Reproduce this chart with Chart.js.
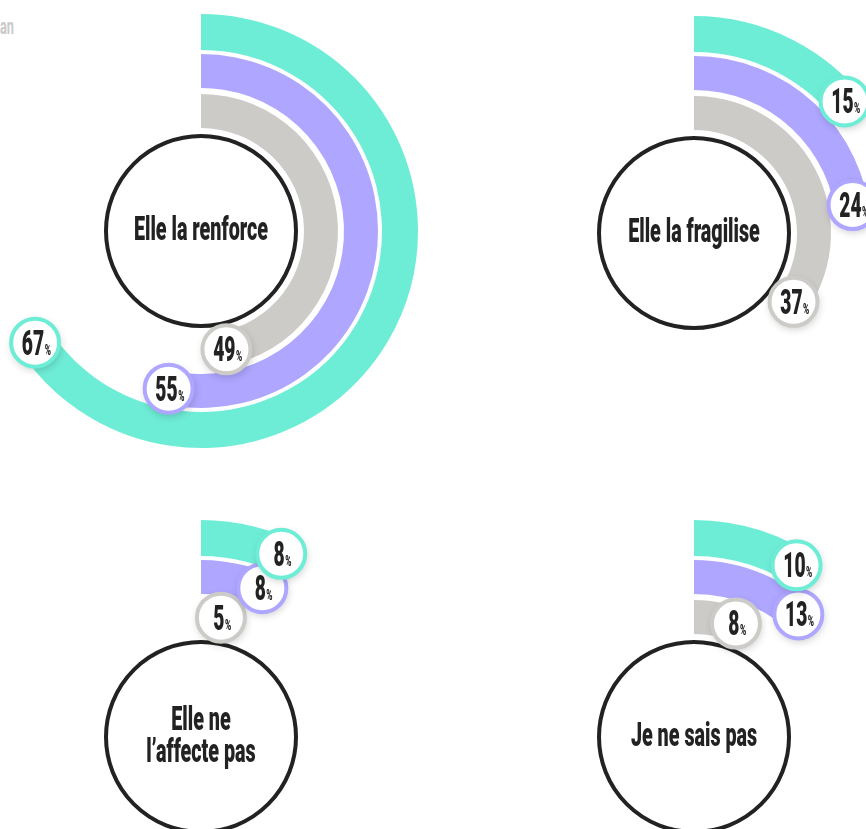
<!DOCTYPE html>
<html lang="fr">
<head>
<meta charset="utf-8">
<script src="https://cdn.jsdelivr.net/npm/chart.js@4.4.1/dist/chart.umd.min.js"></script>
<style>
    html, body { margin: 0; padding: 0; background: #fff; }
    #stage { position: relative; width: 866px; height: 829px; overflow: hidden; }
    .gauge { position: absolute; }
    #legend-tail {
        position: absolute; left: 0; top: 14px;
        font: 700 22px Roboto; color: #c9c9c9;
        transform: scaleX(0.58); transform-origin: left top;
    }
</style>
</head>
<body>
<div id="stage">
    <div id="legend-tail">an</div>
    <canvas class="gauge" id="gauge-0" width="500" height="500" style="left:-49px; top:-19px"></canvas>
    <canvas class="gauge" id="gauge-1" width="500" height="500" style="left:444px; top:-17px"></canvas>
    <canvas class="gauge" id="gauge-2" width="500" height="500" style="left:-49px; top:487px"></canvas>
    <canvas class="gauge" id="gauge-3" width="500" height="500" style="left:444px; top:487px"></canvas>
</div>
<script>
// answers (one gauge each) and the three groups, outer ring to inner ring
const answers = ["Elle la renforce", "Elle la fragilise", ["Elle ne", "l’affecte pas"], "Je ne sais pas"];
const groupA = [67, 15, 8, 10];
const groupB = [55, 24, 8, 13];
const groupC = [49, 37, 5, 8];
const groupColors = ["#6eedd6", "#aea6ff", "#cccbc8"];

const OUTER = 217;
const INNER = 103;
const CLEAR = "rgba(0,0,0,0)";

function ring(v, color, weight) {
    return { data: [v, 100 - v], backgroundColor: [color, CLEAR], weight: weight, borderWidth: 0 };
}

function spacer(weight) {
    return { data: [100], backgroundColor: [CLEAR], weight: weight, borderWidth: 0, isSpacer: true };
}

function squeezedText(ctx, str, x, y, size, squeeze) {
    ctx.save();
    ctx.translate(x, y);
    ctx.scale(squeeze, 1);
    ctx.font = "900 " + size + "px Roboto";
    ctx.fillText(str, 0, 0);
    ctx.restore();
}

function textWidth(ctx, str, size, squeeze) {
    ctx.save();
    ctx.font = "900 " + size + "px Roboto";
    const w = ctx.measureText(str).width * squeeze;
    ctx.restore();
    return w;
}

function gaugeLabels(label) {
    return {
        id: "gaugeLabels",
        afterDatasetsDraw(chart) {
            const ctx = chart.ctx;
            const first = chart.getDatasetMeta(0).data[0];
            const cx = first.x, cy = first.y;

            // centre disc
            ctx.save();
            ctx.beginPath();
            ctx.arc(cx, cy, 95, 0, Math.PI * 2);
            ctx.fillStyle = "#fff";
            ctx.fill();
            ctx.lineWidth = 4;
            ctx.strokeStyle = "#222";
            ctx.stroke();

            ctx.fillStyle = "#222";
            ctx.textAlign = "center";
            ctx.textBaseline = "alphabetic";
            const lines = Array.isArray(label) ? label : [label];
            const lh = 32;
            const top = cy - 3 - (lines.length - 1) * lh / 2;
            lines.forEach((ln, k) => squeezedText(ctx, ln, cx, top + k * lh + 12, 34, 0.58));
            ctx.restore();

            // value bubbles, innermost first so the outer ones sit on top
            const rings = chart.data.datasets
                .map((d, i) => ({ d, i }))
                .filter(r => !r.d.isSpacer)
                .reverse();

            rings.forEach(({ d, i }) => {
                const arc = chart.getDatasetMeta(i).data[0];
                const mid = (arc.innerRadius + arc.outerRadius) / 2 + 1;
                const a = arc.endAngle - 18 / mid;
                const bx = cx + Math.cos(a) * mid;
                const by = cy + Math.sin(a) * mid;

                ctx.save();
                ctx.shadowColor = "rgba(0,0,0,0.22)";
                ctx.shadowBlur = 9;
                ctx.shadowOffsetX = 1;
                ctx.shadowOffsetY = 3;
                ctx.beginPath();
                ctx.arc(bx, by, 24, 0, Math.PI * 2);
                ctx.fillStyle = "#fff";
                ctx.fill();
                ctx.shadowColor = CLEAR;
                ctx.lineWidth = 4;
                ctx.strokeStyle = d.backgroundColor[0];
                ctx.stroke();

                const num = String(d.data[0]);
                const wNum = textWidth(ctx, num, 35, 0.55);
                const wPct = textWidth(ctx, "%", 14, 0.6);
                const x0 = bx - (wNum + wPct) / 2 + 1;
                ctx.fillStyle = "#222";
                ctx.textAlign = "left";
                ctx.textBaseline = "alphabetic";
                squeezedText(ctx, num, x0, by + 12, 35, 0.55);
                squeezedText(ctx, "%", x0 + wNum + 0.5, by + 12, 14, 0.6);
                ctx.restore();
            });
        }
    };
}

answers.forEach((label, n) => {
    const el = document.getElementById("gauge-" + n);
    new Chart(el, {
        type: "doughnut",
        data: {
            datasets: [
                ring(groupA[n], groupColors[0], 36),
                spacer(4),
                ring(groupB[n], groupColors[1], 34),
                spacer(6),
                ring(groupC[n], groupColors[2], 34)
            ]
        },
        options: {
            responsive: false,
            animation: false,
            events: [],
            radius: OUTER,
            cutout: (INNER / OUTER * 100) + "%",
            elements: { arc: { borderWidth: 0, offset: 0, hoverOffset: 0 } },
            plugins: { legend: { display: false }, tooltip: { enabled: false } }
        },
        plugins: [gaugeLabels(label)]
    });
});
</script>
</body>
</html>
